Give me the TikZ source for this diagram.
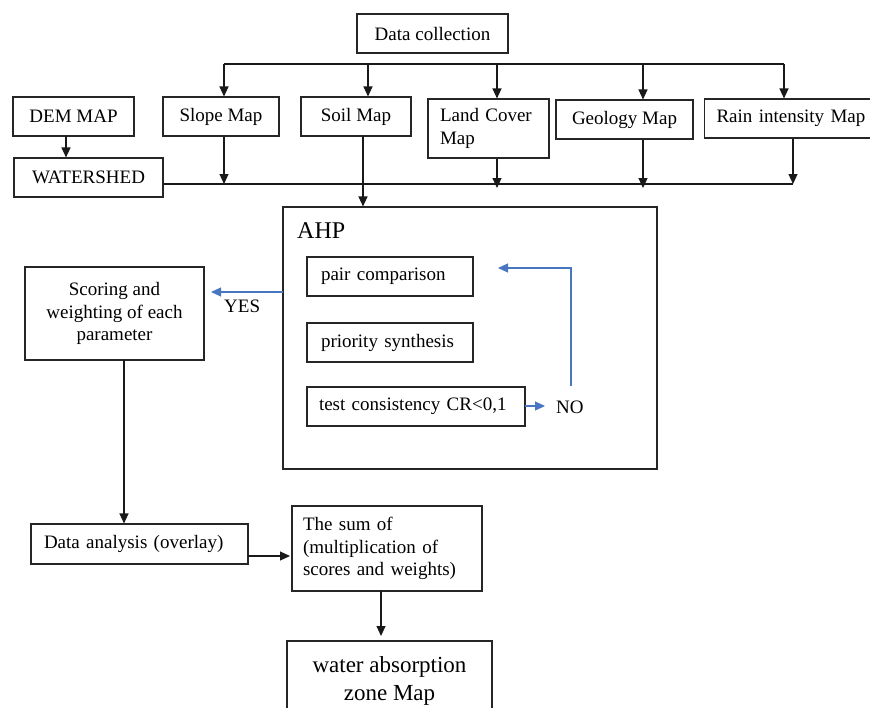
\documentclass[tikz,border=0pt]{standalone}
\usepackage{fontspec}
\setmainfont{Liberation Serif}
\usetikzlibrary{arrows.meta,calc}
\definecolor{lineblue}{RGB}{72,118,192}
\begin{document}
\begin{tikzpicture}[x=1pt,y=-1pt,
  box/.style={draw=black!85,line width=1.1pt,inner sep=0pt,font=\fontsize{19}{22.5}\selectfont,align=center},
  lbox/.style={box,align=left},
  arr/.style={draw=black!90,line width=1.1pt,-{Triangle[width=9pt,length=10pt]}},
  barr/.style={draw=lineblue,line width=1.1pt,-{Triangle[width=9pt,length=10pt]}},
  plain/.style={draw=black!90,line width=1.1pt},
  lbl/.style={inner sep=0pt,font=\fontsize{19}{22.5}\selectfont}]
\useasboundingbox (0,0) rectangle (870,707);
% top row
\node[box,minimum width=151pt,minimum height=39pt] (dc) at (432.5,33.5) {Data collection};
\node[box,minimum width=121pt,minimum height=39pt] (dem) at (73.5,116.5) {DEM MAP};
\node[box,minimum width=116pt,minimum height=39pt] (slope) at (221,116.5) {Slope Map};
\node[box,minimum width=110pt,minimum height=39pt] (soil) at (356,116.5) {Soil Map};
\node[lbox,text width=97pt,inner xsep=12pt,minimum height=59pt] (lc) at (488.5,128.5) {Land Cover\\Map};
\node[box,minimum width=137pt,minimum height=39pt] (geo) at (624.5,119.5) {Geology Map};
\node[lbox,text width=160pt,inner xsep=12pt,minimum height=39pt,anchor=west] (rain) at (704,118.5) {Rain intensity Map};
\node[box,minimum width=149pt,minimum height=39pt] (ws) at (88.5,177.5) {WATERSHED};
% AHP
\node[box,minimum width=374pt,minimum height=262pt] (ahp) at (470,338) {};
\node[lbl,anchor=west,font=\fontsize{24}{28}\selectfont] (ahpl) at (297,231) {AHP};
\node[lbox,text width=138pt,inner xsep=14pt,minimum height=39pt] (pair) at (390,276.5) {pair comparison};
\node[lbox,text width=138pt,inner xsep=14pt,minimum height=39pt] (prio) at (390,342.5) {priority synthesis};
\node[lbox,text width=194pt,inner xsep=12pt,minimum height=39pt] (test) at (416,406.5) {test consistency CR<0,1};
% left / bottom
\node[box,minimum width=179pt,minimum height=93pt] (score) at (114.5,313.5) {Scoring and\\weighting of each\\parameter};
\node[lbox,text width=191pt,inner xsep=13pt,minimum height=40pt] (da) at (139.5,544) {Data analysis (overlay)};
\node[lbox,text width=168pt,inner xsep=11pt,minimum height=85pt] (sum) at (387,548.5) {The sum of\\(multiplication of\\scores and weights)};
\node[box,minimum width=205pt,minimum height=79pt,font=\fontsize{23}{28}\selectfont] (wz) at (389.5,680.5) {water absorption\\zone Map};
% labels
\node[lbl,anchor=west] (yes) at (224,306) {YES};
\node[lbl,anchor=west] (no) at (556,407) {NO};
% connectors: top bus
\coordinate (bl) at (224,64);
\coordinate (br) at (784,64);
\coordinate (d2) at (368,64);
\coordinate (d3) at (497,64);
\coordinate (d4) at (643,64);
\draw[plain] (bl) -- (br);
\draw[arr] (bl) -- (bl |- slope.north);
\draw[arr] (d2) -- (d2 |- soil.north);
\draw[arr] (d3) -- (d3 |- lc.north);
\draw[arr] (d4) -- (d4 |- geo.north);
\draw[arr] (br) -- (br |- rain.north);
% lower bus
\coordinate (w0) at (163,184);
\coordinate (w5) at (793,184);
\coordinate (u1) at (224,184);
\coordinate (u3) at (497,188);
\coordinate (u4) at (643,188);
\draw[plain] (w0) -- (w5);
\draw[arr] (u1 |- slope.south) -- (u1);
\draw[arr] (u3 |- lc.south) -- (u3);
\draw[arr] (u4 |- geo.south) -- (u4);
\draw[arr] (w5 |- rain.south) -- (w5);
\coordinate (s1) at (363,136);
\draw[arr] (s1) -- (s1 |- ahp.north);
\coordinate (dm) at (66,136);
\draw[arr] (dm) -- (dm |- ws.north);
% AHP loop
\coordinate (yesA) at (283,292);
\coordinate (yesB) at (211,292);
\draw[barr] (yesA) -- (yesB);
\coordinate (noA) at (525,406);
\coordinate (noB) at (545,406);
\draw[barr] (noA) -- (noB);
\coordinate (lp1) at (571,386);
\coordinate (lp2) at (571,268);
\coordinate (lp3) at (498,268);
\draw[barr] (lp1) -- (lp2) -- (lp3);
% lower flow
\coordinate (sc) at (124,360);
\draw[arr] (sc) -- (sc |- da.north);
\coordinate (daR) at (248,556);
\coordinate (suL) at (290,556);
\draw[arr] (daR) -- (suL);
\coordinate (sm) at (381,591);
\coordinate (sm2) at (381,636);
\draw[arr] (sm) -- (sm2);
\end{tikzpicture}
\end{document}
